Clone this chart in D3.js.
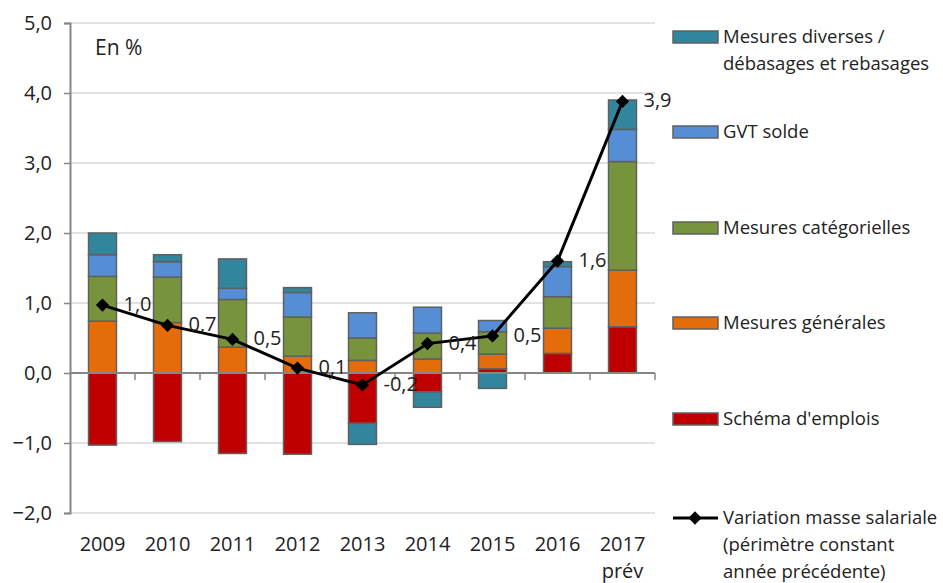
<!DOCTYPE html>
<html>
  <head>
    <meta charset="utf-8">
    <title>Masse salariale</title>
    <style>
      body { margin: 0; background: #fff; }
      text { font-family: "Open Sans", sans-serif; fill: #222; }
    </style>
  </head>
  <body>
    <div id="chart"></div>
    <script src="https://cdn.jsdelivr.net/npm/d3@7/dist/d3.min.js"></script>
    <script>

        var years = ['2009', '2010', '2011', '2012', '2013', '2014', '2015', '2016', '2017'];
        var yTicks = [-2, -1, 0, 1, 2, 3, 4, 5];

        // stacked components, in Excel series order
        var schemaEmplois   = [-1.03, -0.98, -1.15, -1.16, -0.72, -0.27, 0.06, 0.28, 0.66];
        var mesGenerales    = [0.74, 0.72, 0.37, 0.24, 0.18, 0.20, 0.21, 0.36, 0.81];
        var mesCategorielles = [0.64, 0.65, 0.68, 0.56, 0.32, 0.37, 0.32, 0.45, 1.55];
        var gvtSolde        = [0.31, 0.22, 0.16, 0.35, 0.36, 0.37, 0.16, 0.43, 0.46];
        var mesDiverses     = [0.31, 0.10, 0.42, 0.07, -0.30, -0.22, -0.22, 0.07, 0.42];

        var variation = [0.97, 0.68, 0.48, 0.07, -0.17, 0.42, 0.53, 1.60, 3.88];
        var variationLabels = ['1,0', '0,7', '0,5', '0,1', '-0,2', '0,4', '0,5', '1,6', '3,9'];

        var series = [
          { key: 'schema', name: ["Schéma d'emplois"], color: '#C00000', values: schemaEmplois },
          { key: 'gen', name: ['Mesures générales'], color: '#E46C0A', values: mesGenerales },
          { key: 'cat', name: ['Mesures catégorielles'], color: '#77933C', values: mesCategorielles },
          { key: 'gvt', name: ['GVT solde'], color: '#558ED5', values: gvtSolde },
          { key: 'div', name: ['Mesures diverses /', 'débasages et rebasages'], color: '#31859C', values: mesDiverses }
        ];

        var width = 943, height = 583;
        var plotL = 70, plotR = 655, plotT = 23, plotB = 513;

        var table = years.map(function(y, i) {
          var row = { year: y };
          series.forEach(function(s) { row[s.key] = s.values[i]; });
          return row;
        });

        var stack = d3.stack()
          .keys(series.map(function(s) { return s.key; }))
          .offset(d3.stackOffsetDiverging);
        var stacked = stack(table);

        var x = d3.scaleBand().domain(years).range([plotL, plotR]).padding(0);
        var y = d3.scaleLinear().domain([-2, 5]).range([plotB, plotT]);
        var barW = x.bandwidth() * 0.43;
        var fmt = function(v) { return d3.format('.1f')(v).replace('.', ','); };
        var diamond = d3.symbol().type(d3.symbolSquare).size(88);

        var svg = d3.select('#chart').append('svg')
          .attr('width', width)
          .attr('height', height);

        // gridlines
        svg.append('g').selectAll('line')
          .data(yTicks)
          .enter().append('line')
          .attr('x1', plotL).attr('x2', plotR)
          .attr('y1', function(d) { return y(d); })
          .attr('y2', function(d) { return y(d); })
          .attr('stroke', '#D9D9D9')
          .attr('stroke-width', 1.5);

        // y axis
        var yAxis = svg.append('g')
          .attr('transform', 'translate(' + plotL + ',0)')
          .call(d3.axisLeft(y).tickValues(yTicks).tickFormat(fmt).tickSize(6).tickPadding(12));
        yAxis.select('.domain').attr('stroke', '#868686').attr('stroke-width', 2);
        yAxis.selectAll('.tick line').attr('stroke', '#868686').attr('stroke-width', 1.5);
        yAxis.selectAll('text').style('font-size', '20px').attr('fill', '#222');

        // bars
        svg.append('g').selectAll('g')
          .data(stacked)
          .enter().append('g')
          .attr('fill', function(d, i) { return series[i].color; })
          .selectAll('rect')
          .data(function(d) { return d; })
          .enter().append('rect')
          .attr('x', function(d) { return x(d.data.year) + (x.bandwidth() - barW) / 2; })
          .attr('width', barW)
          .attr('y', function(d) { return y(Math.max(d[0], d[1])); })
          .attr('height', function(d) { return Math.abs(y(d[0]) - y(d[1])); })
          .attr('stroke', '#606060')
          .attr('stroke-width', 1.5);

        // category axis at zero
        var xAxis = svg.append('g')
          .attr('transform', 'translate(0,' + y(0) + ')');
        xAxis.append('line')
          .attr('x1', plotL).attr('x2', plotR)
          .attr('stroke', '#868686').attr('stroke-width', 2);
        xAxis.selectAll('.tk')
          .data(years)
          .enter().append('line')
          .attr('class', 'tk')
          .attr('x1', function(d) { return x(d) + x.bandwidth(); })
          .attr('x2', function(d) { return x(d) + x.bandwidth(); })
          .attr('y1', 0).attr('y2', 7)
          .attr('stroke', '#868686').attr('stroke-width', 1.5);

        // year labels at bottom
        svg.append('g').selectAll('text')
          .data(years)
          .enter().append('text')
          .attr('x', function(d) { return x(d) + x.bandwidth() / 2; })
          .attr('y', 551)
          .attr('text-anchor', 'middle')
          .style('font-size', '20px')
          .text(function(d) { return d; });
        svg.append('text')
          .attr('x', x('2017') + x.bandwidth() / 2)
          .attr('y', 578)
          .attr('text-anchor', 'middle')
          .style('font-size', '20px')
          .text('prév');

        // line
        var line = d3.line()
          .x(function(d, i) { return x(years[i]) + x.bandwidth() / 2; })
          .y(function(d) { return y(d); });
        svg.append('path')
          .datum(variation)
          .attr('d', line)
          .attr('fill', 'none')
          .attr('stroke', '#000')
          .attr('stroke-width', 3);
        svg.append('g').selectAll('path')
          .data(variation)
          .enter().append('path')
          .attr('d', diamond)
          .attr('transform', function(d, i) {
            return 'translate(' + (x(years[i]) + x.bandwidth() / 2) + ',' + y(d) + ') rotate(45)';
          })
          .attr('fill', '#000');
        svg.append('g').selectAll('text')
          .data(variation)
          .enter().append('text')
          .attr('x', function(d, i) { return x(years[i]) + x.bandwidth() / 2 + 21; })
          .attr('y', function(d) { return y(d) + 6; })
          .style('font-size', '20px')
          .text(function(d, i) { return variationLabels[i]; });

        svg.append('text')
          .attr('x', 95).attr('y', 55)
          .style('font-size', '21px')
          .text('En %');

        // legend
        var legendY = [37, 132, 228, 323, 419];
        var legendSeries = series.slice().reverse();
        var lg = svg.append('g').selectAll('g')
          .data(legendSeries)
          .enter().append('g')
          .attr('transform', function(d, i) { return 'translate(673,' + legendY[i] + ')'; });
        lg.append('rect')
          .attr('x', 0).attr('y', -6)
          .attr('width', 45).attr('height', 12)
          .attr('fill', function(d) { return d.color; })
          .attr('stroke', '#606060')
          .attr('stroke-width', 1.5);
        lg.append('text')
          .style('font-size', '18.5px')
          .selectAll('tspan')
          .data(function(d) { return d.name; })
          .enter().append('tspan')
          .attr('x', 50)
          .attr('y', function(d, i) { return i * 27 + 6; })
          .text(function(d) { return d; });

        var lv = svg.append('g').attr('transform', 'translate(673,518)');
        lv.append('line').attr('x1', 0).attr('x2', 45).attr('stroke', '#000').attr('stroke-width', 3);
        lv.append('path')
          .attr('d', diamond)
          .attr('transform', 'translate(22,0) rotate(45)')
          .attr('fill', '#000');
        lv.append('text')
          .style('font-size', '18.5px')
          .selectAll('tspan')
          .data(['Variation masse salariale', '(périmètre constant', 'année précédente)'])
          .enter().append('tspan')
          .attr('x', 50)
          .attr('y', function(d, i) { return i * 27 + 6; })
          .text(function(d) { return d; });

    </script>
  </body>
</html>
